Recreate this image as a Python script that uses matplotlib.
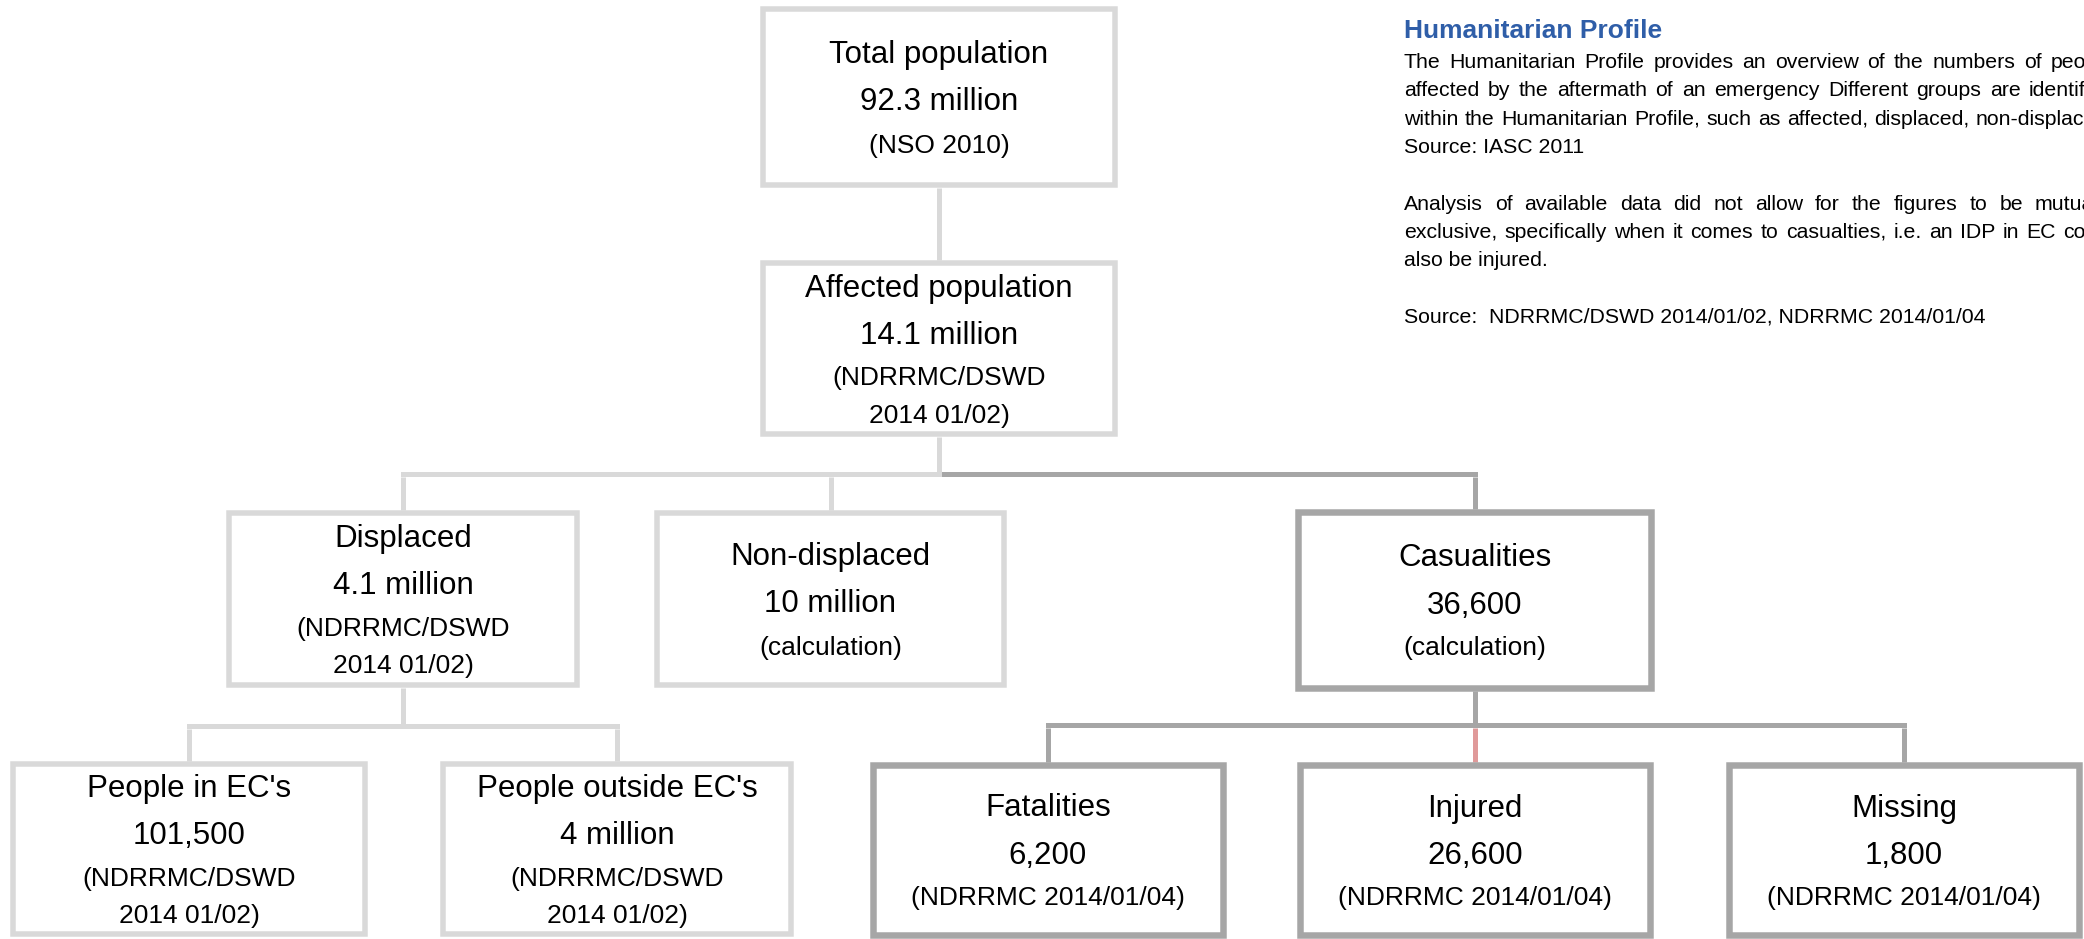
import matplotlib
matplotlib.use("Agg")
import matplotlib.pyplot as plt
from matplotlib.patches import Rectangle
from matplotlib.font_manager import FontProperties

# ---------------- data ----------------
node_titles = ["Total population", "Affected population", "Displaced", "Non-displaced",
               "Casualities", "People in EC's", "People outside EC's",
               "Fatalities", "Injured", "Missing"]
node_values = ["92.3 million", "14.1 million", "4.1 million", "10 million", "36,600",
               "101,500", "4 million", "6,200", "26,600", "1,800"]
node_sources = ["(NSO 2010)", "(NDRRMC/DSWD\n2014 01/02)", "(NDRRMC/DSWD\n2014 01/02)",
                "(calculation)", "(calculation)", "(NDRRMC/DSWD\n2014 01/02)",
                "(NDRRMC/DSWD\n2014 01/02)", "(NDRRMC 2014/01/04)",
                "(NDRRMC 2014/01/04)", "(NDRRMC 2014/01/04)"]
node_parents = [None, 0, 1, 1, 1, 2, 2, 4, 4, 4]

panel_title = "Humanitarian Profile"
panel_paragraphs = [
    ["The Humanitarian Profile provides an overview of the numbers of people",
     "affected by the aftermath of an emergency Different groups are identified",
     "within the Humanitarian Profile, such as affected, displaced, non-displaced,",
     "Source: IASC 2011"],
    ["Analysis of available data did not allow for the figures to be mutually",
     "exclusive, specifically when it comes to casualties, i.e. an IDP in EC could",
     "also be injured."],
    ["Source:  NDRRMC/DSWD 2014/01/02, NDRRMC 2014/01/04"],
]

# ---------------- layout / style (pixels) ----------------
W, H = 2084, 939
LIGHT, DARK, RED = "#d9d9d9", "#a6a6a6", "#e09a9a"
box_x = [(760, 1118), (760, 1118), (226, 580), (654, 1007), (1295, 1654),
         (10, 368), (440, 794), (870, 1226), (1297, 1653), (1726, 2082)]
box_y = [(6, 188), (260, 437), (510, 688), (510, 688), (509, 691),
         (761, 937), (761, 937), (762, 938), (762, 938), (762, 938)]
box_color = [LIGHT, LIGHT, LIGHT, LIGHT, DARK, LIGHT, LIGHT, DARK, DARK, DARK]
box_lw = [5.5, 5.5, 5.5, 5.5, 6.5, 5.5, 5.5, 6.5, 6.5, 6.5]
link_color = [None, LIGHT, LIGHT, LIGHT, DARK, LIGHT, LIGHT, DARK, RED, DARK]
bar_y = {1: 474, 2: 726, 4: 725}
CONN_LW = 5.0

FONT = "Liberation Sans"
MAIN_PT, SUB_PT = 22.5, 19.0
GAP_MAIN, GAP_MS, GAP_SS, CAP = 47, 42, 37, 22

px2pt = 72.0 / 100.0

fig = plt.figure(figsize=(W / 100, H / 100), dpi=100)
ax = fig.add_axes([0, 0, 1, 1])
ax.set_xlim(0, W)
ax.set_ylim(H, 0)
ax.axis("off")

cx = [(a + b) / 2 for a, b in box_x]

# ---------------- connectors ----------------
children = {}
for i, p in enumerate(node_parents):
    if p is not None:
        children.setdefault(p, []).append(i)

bars = []
for p, kids in children.items():
    if len(kids) == 1:
        k = kids[0]
        ax.plot([cx[p], cx[p]], [box_y[p][1], box_y[k][0]], color=link_color[k],
                lw=CONN_LW * px2pt, solid_capstyle="butt", zorder=1)
        continue
    by = bar_y[p]
    ax.plot([cx[p], cx[p]], [box_y[p][1], by], color=box_color[p],
            lw=CONN_LW * px2pt, solid_capstyle="butt", zorder=1)
    for k in kids:
        ax.plot([cx[k], cx[k]], [by + CONN_LW / 2, box_y[k][0]], color=link_color[k],
                lw=CONN_LW * px2pt, solid_capstyle="butt", zorder=1)
        bars.append((box_color[k], cx[p], cx[k], by))

# dark bars first, light on top
for col in (DARK, LIGHT):
    for c, x0, x1, by in bars:
        if c != col or x0 == x1:
            continue
        ax.plot([x0, x1], [by, by], color=c, lw=CONN_LW * px2pt,
                solid_capstyle="projecting", zorder=2)

# ---------------- boxes ----------------
for i in range(len(node_titles)):
    (x0, x1), (y0, y1) = box_x[i], box_y[i]
    lw = box_lw[i]
    ax.add_patch(Rectangle((x0 + lw / 2, y0 + lw / 2), x1 - x0 - lw, y1 - y0 - lw,
                           facecolor="white", edgecolor=box_color[i],
                           lw=lw * px2pt, joinstyle="miter", zorder=3))
    lines = [(node_titles[i], MAIN_PT), (node_values[i], MAIN_PT)]
    lines += [(s, SUB_PT) for s in node_sources[i].split("\n")]
    offs = [0, GAP_MAIN]
    for j in range(2, len(lines)):
        offs.append(offs[-1] + (GAP_MS if j == 2 else GAP_SS))
    cy = (y0 + y1) / 2
    b0 = cy - (offs[-1] - CAP) / 2
    for (s, sz), o in zip(lines, offs):
        ax.text(cx[i], b0 + o, s, ha="center", va="baseline", fontsize=sz,
                family=FONT, color="black", zorder=4)

# ---------------- right text panel ----------------
PX0, PX1 = 1404, 2114
BODY_PT = 15.3
LINE = 28.3
ax.text(PX0, 38, panel_title, ha="left", va="baseline", fontsize=19,
        fontweight="bold", family=FONT, color="#2f5ea8", clip_on=False)

renderer = fig.canvas.get_renderer()
fp = FontProperties(family=FONT, size=BODY_PT)


def width(s):
    w, h, d = renderer.get_text_width_height_descent(s, fp, ismath=False)
    return w


y = 68
for para in panel_paragraphs:
    for li, line in enumerate(para):
        last = li == len(para) - 1
        if last:
            ax.text(PX0, y, line, ha="left", va="baseline", fontproperties=fp,
                    color="black", clip_on=False)
        else:
            words = line.split(" ")
            ws = [width(w_) for w_ in words]
            gap = (PX1 - PX0 - sum(ws)) / (len(words) - 1)
            x = PX0
            for w_, wd in zip(words, ws):
                ax.text(x, y, w_, ha="left", va="baseline", fontproperties=fp,
                        color="black", clip_on=False)
                x += wd + gap
        y += LINE
    y += LINE

fig.savefig("out.png", dpi=100, facecolor="white")
